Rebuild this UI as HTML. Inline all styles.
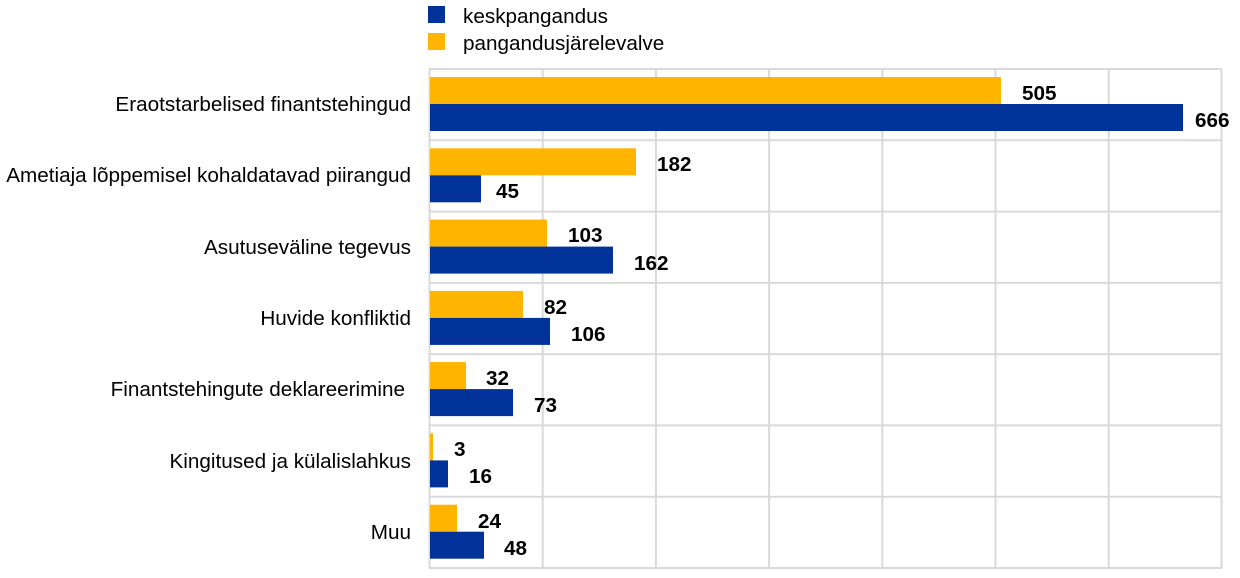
<!DOCTYPE html>
<html><head><meta charset="utf-8"><style>
body{margin:0;background:#fff;}
svg text{font-family:"Liberation Sans",Arial,sans-serif;}
</style></head><body>
<svg width="1240" height="573" xmlns="http://www.w3.org/2000/svg">
<rect x="428" y="6" width="17" height="17" fill="#003299"/>
<rect x="428" y="33" width="17" height="17" fill="#FFB400"/>
<text x="463" y="23" font-size="20.7">keskpangandus</text>
<text x="463" y="50" font-size="20.7">pangandusjärelevalve</text>
<g stroke="#d9d9d9" stroke-width="2">
<line x1="429.5" y1="69" x2="429.5" y2="568"/>
<line x1="542.7" y1="69" x2="542.7" y2="568"/>
<line x1="655.9" y1="69" x2="655.9" y2="568"/>
<line x1="769.1" y1="69" x2="769.1" y2="568"/>
<line x1="882.3" y1="69" x2="882.3" y2="568"/>
<line x1="995.5" y1="69" x2="995.5" y2="568"/>
<line x1="1108.7" y1="69" x2="1108.7" y2="568"/>
<line x1="1221.5" y1="69" x2="1221.5" y2="568"/>
<line x1="429" y1="69" x2="1222" y2="69"/>
<line x1="429" y1="140.3" x2="1222" y2="140.3"/>
<line x1="429" y1="211.6" x2="1222" y2="211.6"/>
<line x1="429" y1="282.9" x2="1222" y2="282.9"/>
<line x1="429" y1="354.1" x2="1222" y2="354.1"/>
<line x1="429" y1="425.4" x2="1222" y2="425.4"/>
<line x1="429" y1="496.7" x2="1222" y2="496.7"/>
<line x1="429" y1="568" x2="1222" y2="568"/>
</g>
<g font-size="20.7" text-anchor="end">
<text x="411" y="111">Eraotstarbelised finantstehingud</text>
<text x="411" y="182">Ametiaja lõppemisel kohaldatavad piirangud</text>
<text x="411" y="254">Asutuseväline tegevus</text>
<text x="411" y="325">Huvide konfliktid</text>
<text x="405" y="396">Finantstehingute deklareerimine</text>
<text x="411" y="468">Kingitused ja külalislahkus</text>
<text x="411" y="539">Muu</text>
</g>
<g>
<rect x="430" y="77" width="571" height="27" fill="#FFB400"/>
<rect x="430" y="104" width="753" height="27" fill="#003299"/>
<rect x="430" y="148.3" width="206" height="27" fill="#FFB400"/>
<rect x="430" y="175.3" width="51" height="27" fill="#003299"/>
<rect x="430" y="219.6" width="117" height="27" fill="#FFB400"/>
<rect x="430" y="246.6" width="183" height="27" fill="#003299"/>
<rect x="430" y="290.9" width="93" height="27" fill="#FFB400"/>
<rect x="430" y="317.9" width="120" height="27" fill="#003299"/>
<rect x="430" y="362.1" width="36" height="27" fill="#FFB400"/>
<rect x="430" y="389.1" width="83" height="27" fill="#003299"/>
<rect x="430" y="433.4" width="3" height="27" fill="#FFB400"/>
<rect x="430" y="460.4" width="18" height="27" fill="#003299"/>
<rect x="430" y="504.7" width="27" height="27" fill="#FFB400"/>
<rect x="430" y="531.7" width="54" height="27" fill="#003299"/>
</g>
<g font-size="20.7" font-weight="bold">
<text x="1022" y="100">505</text>
<text x="1195" y="127">666</text>
<text x="657" y="171">182</text>
<text x="496" y="198">45</text>
<text x="568" y="242">103</text>
<text x="634" y="270">162</text>
<text x="544" y="314">82</text>
<text x="571" y="341">106</text>
<text x="486" y="385">32</text>
<text x="534" y="412">73</text>
<text x="454" y="456">3</text>
<text x="469" y="483">16</text>
<text x="478" y="528">24</text>
<text x="504" y="555">48</text>
</g>
</svg>
</body></html>
